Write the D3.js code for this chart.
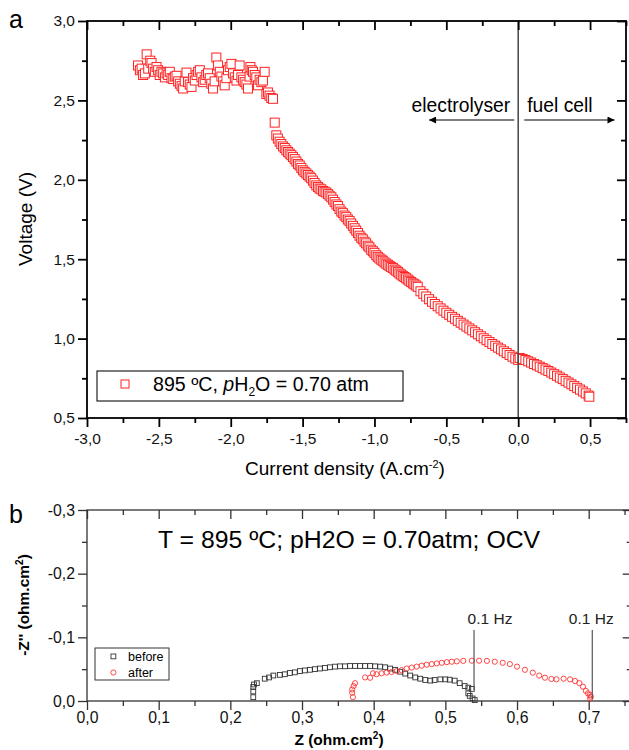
<!DOCTYPE html>
<html lang="en">
<head>
<meta charset="utf-8">
<title>Polarisation and impedance</title>
<script src="https://d3js.org/d3.v7.min.js"></script>
<style>
  body { margin: 0; background: #fff; }
  text { font-family: Arial, "Liberation Sans", sans-serif; }
</style>
</head>
<body>
<script>

// ---- panel a : i-V curve (A.cm-2, V) ----
var currentDensity = [
  -2.645,-2.632,-2.620,-2.610,-2.597,-2.585,-2.574,-2.560,-2.551,-2.540,-2.528,-2.516,-2.505,-2.494,-2.482,
  -2.470,-2.458,-2.446,-2.435,-2.424,-2.412,-2.400,-2.389,-2.377,-2.366,-2.354,-2.342,-2.331,-2.320,-2.308,
  -2.297,-2.285,-2.273,-2.262,-2.250,-2.238,-2.227,-2.215,-2.204,-2.192,-2.181,-2.170,-2.158,-2.146,-2.135,
  -2.123,-2.112,-2.100,-2.088,-2.076,-2.065,-2.053,-2.042,-2.030,-2.019,-2.007,-1.995,-1.984,-1.972,-1.960,
  -1.949,-1.938,-1.926,-1.914,-1.903,-1.891,-1.880,-1.869,-1.863,-1.854,-1.845,-1.833,-1.822,-1.810,-1.799,
  -1.787,-1.776,-1.764,-1.752,-1.741,-1.730,-1.718,-1.706,
  -1.694,-1.683,-1.672,-1.660,-1.648,-1.636,-1.624,-1.613,-1.601,-1.590,-1.578,-1.567,-1.555,-1.543,-1.532,
  -1.520,-1.509,-1.498,-1.486,-1.474,-1.463,-1.451,-1.440,-1.428,-1.417,-1.405,-1.393,-1.382,-1.370,-1.358,
  -1.347,-1.335,-1.323,-1.312,-1.300,-1.288,-1.277,-1.265,-1.254,-1.243,-1.231,-1.220,-1.208,-1.196,-1.185,
  -1.173,-1.162,-1.150,-1.138,-1.127,-1.115,-1.104,-1.092,-1.081,-1.069,-1.058,-1.046,-1.035,-1.023,-1.011,
  -1.000,-0.988,-0.977,-0.965,-0.953,-0.942,-0.930,-0.918,-0.907,-0.895,-0.884,-0.872,-0.860,-0.849,-0.837,
  -0.826,-0.814,-0.803,-0.791,-0.780,-0.768,-0.757,-0.745,-0.733,-0.722,-0.710,-0.699,
  -0.68,-0.66,-0.64,-0.62,-0.60,-0.58,-0.56,-0.54,-0.52,-0.50,-0.48,-0.46,-0.44,-0.42,-0.40,
  -0.38,-0.36,-0.34,-0.32,-0.30,-0.28,-0.26,-0.24,-0.22,-0.20,-0.18,-0.16,-0.14,-0.12,-0.10,
  -0.08,-0.06,-0.04,-0.02,0.00,0.01,0.03,0.05,0.07,0.09,0.11,0.13,0.15,0.17,0.19,
  0.21,0.23,0.25,0.27,0.29,0.31,0.33,0.35,0.37,0.39,0.41,0.43,0.45,0.47,0.49,0.495
];
var voltage = [
  2.72,2.69,2.70,2.66,2.67,2.79,2.70,2.75,2.735,2.70,2.68,2.71,2.69,2.66,2.68,
  2.67,2.645,2.67,2.66,2.68,2.64,2.635,2.65,2.655,2.62,2.605,2.59,2.575,2.62,2.675,
  2.615,2.60,2.585,2.64,2.625,2.66,2.68,2.69,2.645,2.615,2.63,2.66,2.67,2.64,2.605,
  2.575,2.62,2.77,2.72,2.68,2.65,2.62,2.595,2.64,2.69,2.71,2.73,2.67,2.645,2.625,
  2.66,2.72,2.645,2.63,2.615,2.60,2.575,2.65,2.71,2.69,2.68,2.66,2.645,2.595,2.63,
  2.615,2.625,2.68,2.54,2.55,2.53,2.515,2.51,
  2.36,2.28,2.26,2.24,2.225,2.21,2.20,2.186,2.175,2.165,2.155,2.143,2.13,2.115,2.10,
  2.09,2.075,2.06,2.05,2.04,2.03,2.02,2.01,1.995,1.98,1.965,1.955,1.945,1.94,1.93,
  1.925,1.92,1.91,1.90,1.89,1.875,1.86,1.845,1.835,1.815,1.80,1.79,1.775,1.765,1.75,
  1.74,1.725,1.71,1.695,1.68,1.665,1.648,1.635,1.625,1.61,1.60,1.585,1.575,1.56,1.55,
  1.54,1.525,1.515,1.505,1.497,1.49,1.48,1.472,1.465,1.458,1.45,1.445,1.435,1.428,1.42,
  1.41,1.403,1.395,1.388,1.38,1.372,1.364,1.356,1.348,1.342,1.334,1.326,
  1.298,1.282,1.265,1.248,1.232,1.218,1.204,1.190,1.176,1.163,1.150,1.137,1.125,1.112,1.100,
  1.088,1.076,1.064,1.052,1.040,1.027,1.015,1.002,0.990,0.978,0.966,0.955,0.943,0.932,0.920,
  0.909,0.897,0.886,0.875,0.866,0.878,0.872,0.865,0.857,0.849,0.840,0.832,0.823,0.814,0.805,
  0.796,0.786,0.776,0.766,0.755,0.745,0.734,0.723,0.712,0.701,0.690,0.679,0.667,0.655,0.641,0.634
];
var xTicksA = [-3, -2.5, -2, -1.5, -1, -0.5, 0, 0.5];
var xMinorA = [-2.75, -2.25, -1.75, -1.25, -0.75, -0.25, 0.25, 0.75];
var yTicksA = [0.5, 1, 1.5, 2, 2.5, 3];
var yMinorA = [0.75, 1.25, 1.75, 2.25, 2.75];

// ---- panel b : Nyquist plot (ohm.cm2) ----
var zBefore = [0.232,0.232,0.232,0.233,0.237,0.248,0.254,0.260,0.269,0.276,0.283,0.290,0.297,0.304,0.311,
  0.318,0.325,0.332,0.339,0.346,0.353,0.360,0.367,0.374,0.381,0.388,0.395,0.402,0.409,0.416,
  0.423,0.430,0.437,0.444,0.451,0.458,0.465,0.472,0.479,0.485,0.493,0.500,0.506,0.513,0.520,
  0.527,0.532,0.537,0.532,0.534,0.538,0.541];
var zImBefore = [-0.006,-0.015,-0.022,-0.026,-0.028,-0.035,-0.037,-0.040,-0.041,-0.042,-0.044,-0.045,-0.047,-0.048,-0.049,
  -0.050,-0.051,-0.052,-0.053,-0.054,-0.0545,-0.0545,-0.055,-0.055,-0.055,-0.055,-0.055,-0.0545,-0.054,-0.053,
  -0.051,-0.049,-0.046,-0.043,-0.040,-0.037,-0.035,-0.033,-0.032,-0.033,-0.034,-0.034,-0.0335,-0.032,-0.028,
  -0.0235,-0.021,-0.019,-0.012,-0.008,-0.004,-0.0015];
var zAfter = [0.371,0.370,0.370,0.372,0.374,0.388,0.395,0.399,0.404,0.411,0.418,0.425,0.432,0.439,0.446,
  0.453,0.460,0.467,0.474,0.481,0.488,0.495,0.502,0.509,0.516,0.525,0.537,0.547,0.558,0.569,
  0.580,0.590,0.600,0.611,0.622,0.631,0.639,0.648,0.655,0.665,0.674,0.681,0.687,0.692,0.696,
  0.699,0.702,0.703,0.702];
var zImAfter = [-0.006,-0.013,-0.018,-0.0235,-0.028,-0.037,-0.0365,-0.0435,-0.042,-0.0435,-0.0445,-0.0455,-0.047,-0.0485,-0.051,
  -0.0525,-0.054,-0.0555,-0.057,-0.058,-0.059,-0.060,-0.061,-0.0617,-0.0623,-0.063,-0.0633,-0.0633,-0.063,-0.0617,
  -0.060,-0.058,-0.054,-0.049,-0.0445,-0.040,-0.0366,-0.0346,-0.034,-0.035,-0.034,-0.0314,-0.028,-0.0225,-0.016,
  -0.012,-0.0094,-0.0068,-0.004];
var xTicksB = [0, 0.1, 0.2, 0.3, 0.4, 0.5, 0.6, 0.7];
var xMinorB = [0.05, 0.15, 0.25, 0.35, 0.45, 0.55, 0.65, 0.75];
var yTicksB = [0, -0.1, -0.2, -0.3];
var yMinorB = [-0.05, -0.15, -0.25];
var lowFreqZ = [0.540, 0.705];   // 0.1 Hz markers
var lowFreqLabelShift = [16, -1];

var width = 629, height = 750;

var svg = d3.select("body").append("svg")
    .attr("width", width)
    .attr("height", height);

var fmt = d3.formatLocale({decimal: ",", thousands: ".", grouping: [3], currency: ["", ""], minus: "-"}).format(".1f");

function frame(g, x, y, major, minor, yMajor, yMinor, col, lw, fs, padX) {
  var x0 = x.range()[0], x1 = x.range()[1], y0 = y.range()[0], y1 = y.range()[1];
  function style(sel) {
    sel.select(".domain").remove();
    sel.selectAll("line").attr("stroke", col).attr("stroke-width", lw);
    sel.selectAll("text").attr("fill", "#111").style("font-size", fs + "px");
  }
  g.append("g").attr("transform", "translate(0," + y0 + ")")
    .call(d3.axisBottom(x).tickValues(major).tickSize(9).tickPadding(padX).tickFormat(fmt)).call(style);
  g.append("g").attr("transform", "translate(0," + y0 + ")")
    .call(d3.axisBottom(x).tickValues(minor).tickSize(5).tickFormat("")).call(style);
  g.append("g").attr("transform", "translate(0," + y1 + ")")
    .call(d3.axisTop(x).tickValues(major).tickSize(-9).tickFormat("")).call(style);
  g.append("g").attr("transform", "translate(0," + y1 + ")")
    .call(d3.axisTop(x).tickValues(minor).tickSize(-5).tickFormat("")).call(style);
  g.append("g").attr("transform", "translate(" + x0 + ",0)")
    .call(d3.axisLeft(y).tickValues(yMajor).tickSize(9).tickPadding(3).tickFormat(fmt)).call(style);
  g.append("g").attr("transform", "translate(" + x0 + ",0)")
    .call(d3.axisLeft(y).tickValues(yMinor).tickSize(5).tickFormat("")).call(style);
  g.append("g").attr("transform", "translate(" + x1 + ",0)")
    .call(d3.axisRight(y).tickValues(yMajor).tickSize(-9).tickFormat("")).call(style);
  g.append("g").attr("transform", "translate(" + x1 + ",0)")
    .call(d3.axisRight(y).tickValues(yMinor).tickSize(-5).tickFormat("")).call(style);
  g.append("rect")
    .attr("x", x0).attr("y", y1)
    .attr("width", x1 - x0).attr("height", y0 - y1)
    .attr("fill", "none").attr("stroke", col).attr("stroke-width", lw);
}

// ================= panel a =================
var xA = d3.scaleLinear().domain([-3, 0.75]).range([87, 626]);
var yA = d3.scaleLinear().domain([0.5, 3.0]).range([418, 21]);

var gA = svg.append("g");

var ptsA = currentDensity.map(function(d, i) { return {i: d, v: voltage[i]}; });
gA.append("g").selectAll("rect")
    .data(ptsA)
  .enter().append("rect")
    .attr("x", function(d) { return xA(d.i) - 4.5; })
    .attr("y", function(d) { return yA(d.v) - 4.5; })
    .attr("width", 9).attr("height", 9)
    .attr("fill", "#fff")
    .attr("stroke", "#f22")
    .attr("stroke-width", 1);

// OCV line
gA.append("line")
    .attr("x1", xA(0)).attr("x2", xA(0))
    .attr("y1", yA(3.0)).attr("y2", yA(0.5))
    .attr("stroke", "#444").attr("stroke-width", 1.5);

frame(gA, xA, yA, xTicksA, xMinorA, yTicksA, yMinorA, "#000", 1.8, 15.5, 6);

// arrows
var defs = svg.append("defs");
defs.append("marker")
    .attr("id", "ah")
    .attr("viewBox", "0 0 10 10")
    .attr("refX", 10).attr("refY", 5)
    .attr("markerWidth", 10).attr("markerHeight", 7)
    .attr("markerUnits", "userSpaceOnUse")
    .attr("orient", "auto")
  .append("path").attr("d", "M0,0L10,5L0,10Z").attr("fill", "#000");

gA.append("line")
    .attr("x1", xA(0) - 4).attr("x2", xA(-0.62)).attr("y1", 120).attr("y2", 120)
    .attr("stroke", "#000").attr("stroke-width", 1.2).attr("marker-end", "url(#ah)");
gA.append("line")
    .attr("x1", xA(0) + 6).attr("x2", xA(0.67)).attr("y1", 120).attr("y2", 120)
    .attr("stroke", "#000").attr("stroke-width", 1.2).attr("marker-end", "url(#ah)");
gA.append("text").attr("x", xA(0) - 8).attr("y", 112)
    .attr("text-anchor", "end").style("font-size", "19.3px").text("electrolyser");
gA.append("text").attr("x", xA(0) + 9).attr("y", 112)
    .style("font-size", "19.3px").text("fuel cell");

// legend a
gA.append("rect").attr("x", 97).attr("y", 371).attr("width", 306).attr("height", 30)
    .attr("fill", "#fff").attr("stroke", "#222").attr("stroke-width", 1.2);
gA.append("rect").attr("x", 121).attr("y", 380).attr("width", 8).attr("height", 8)
    .attr("fill", "#fff").attr("stroke", "#f22").attr("stroke-width", 1);
var lt = gA.append("text").attr("x", 153).attr("y", 391).style("font-size", "19.6px");
lt.append("tspan").text("895 \u00baC, ");
lt.append("tspan").style("font-style", "italic").text("p");
lt.append("tspan").text("H");
lt.append("tspan").attr("dy", 5).style("font-size", "12px").text("2");
lt.append("tspan").attr("dy", -5).text("O = 0.70 atm");

// axis titles a
var xtA = gA.append("text").attr("x", 345).attr("y", 475)
    .attr("text-anchor", "middle").style("font-size", "19px");
xtA.append("tspan").text("Current density (A.cm");
xtA.append("tspan").attr("dy", -7).style("font-size", "11px").text("-2");
xtA.append("tspan").attr("dy", 7).text(")");
gA.append("text")
    .attr("transform", "translate(32,219) rotate(-90)")
    .attr("text-anchor", "middle").style("font-size", "19px").text("Voltage (V)");
gA.append("text").attr("x", 9).attr("y", 28).style("font-size", "25px").text("a");

// ================= panel b =================
var xB = d3.scaleLinear().domain([0, 0.76]).range([87, 631.7]);
var yB = d3.scaleLinear().domain([0, -0.3]).range([701, 510]);

var gB = svg.append("g");

frame(gB, xB, yB, xTicksB, xMinorB, yTicksB, yMinorB, "#333", 1.3, 15.8, 2);

gB.append("g").selectAll("rect")
    .data(zBefore.map(function(d, i) { return {z: d, zi: zImBefore[i]}; }))
  .enter().append("rect")
    .attr("x", function(d) { return xB(d.z) - 2.4; })
    .attr("y", function(d) { return yB(d.zi) - 2.4; })
    .attr("width", 4.8).attr("height", 4.8)
    .attr("fill", "none").attr("stroke", "#333").attr("stroke-width", 0.9);

gB.append("g").selectAll("circle")
    .data(zAfter.map(function(d, i) { return {z: d, zi: zImAfter[i]}; }))
  .enter().append("circle")
    .attr("cx", function(d) { return xB(d.z); })
    .attr("cy", function(d) { return yB(d.zi); })
    .attr("r", 2.6)
    .attr("fill", "none").attr("stroke", "#f33").attr("stroke-width", 0.9);

// 0.1 Hz marks
lowFreqZ.forEach(function(z, k) {
  gB.append("line")
      .attr("x1", xB(z)).attr("x2", xB(z))
      .attr("y1", 630).attr("y2", k === 0 ? 690 : 699)
      .attr("stroke", "#555").attr("stroke-width", 1.2);
  gB.append("text").attr("x", xB(z) + lowFreqLabelShift[k]).attr("y", 624)
      .attr("text-anchor", "middle").style("font-size", "15.5px").attr("fill", "#222").text("0.1 Hz");
});

gB.append("text").attr("x", 158).attr("y", 548)
    .style("font-size", "24.8px").text("T = 895 \u00baC; pH2O = 0.70atm; OCV");

// legend b
gB.append("rect").attr("x", 95).attr("y", 648).attr("width", 74).attr("height", 32)
    .attr("fill", "#fff").attr("stroke", "#333").attr("stroke-width", 1);
gB.append("rect").attr("x", 111).attr("y", 654).attr("width", 4.8).attr("height", 4.8)
    .attr("fill", "none").attr("stroke", "#333").attr("stroke-width", 0.9);
gB.append("circle").attr("cx", 113.4).attr("cy", 672.5).attr("r", 2.6)
    .attr("fill", "none").attr("stroke", "#f33").attr("stroke-width", 0.9);
gB.append("text").attr("x", 128).attr("y", 661).style("font-size", "12.5px").text("before");
gB.append("text").attr("x", 128).attr("y", 677).style("font-size", "12.5px").text("after");

// axis titles b
var xtB = gB.append("text").attr("x", 339).attr("y", 745)
    .attr("text-anchor", "middle").style("font-size", "15.5px").style("font-weight", "bold");
xtB.append("tspan").text("Z (ohm.cm");
xtB.append("tspan").attr("dy", -6).style("font-size", "10px").text("2");
xtB.append("tspan").attr("dy", 6).text(")");
var ytB = gB.append("text")
    .attr("transform", "translate(29,605) rotate(-90)")
    .attr("text-anchor", "middle").style("font-size", "15.5px").style("font-weight", "bold");
ytB.append("tspan").text("-Z'' (ohm.cm");
ytB.append("tspan").attr("dy", -6).style("font-size", "10px").text("2");
ytB.append("tspan").attr("dy", 6).text(")");
gB.append("text").attr("x", 9).attr("y", 523).style("font-size", "25px").text("b");

</script>
</body>
</html>
